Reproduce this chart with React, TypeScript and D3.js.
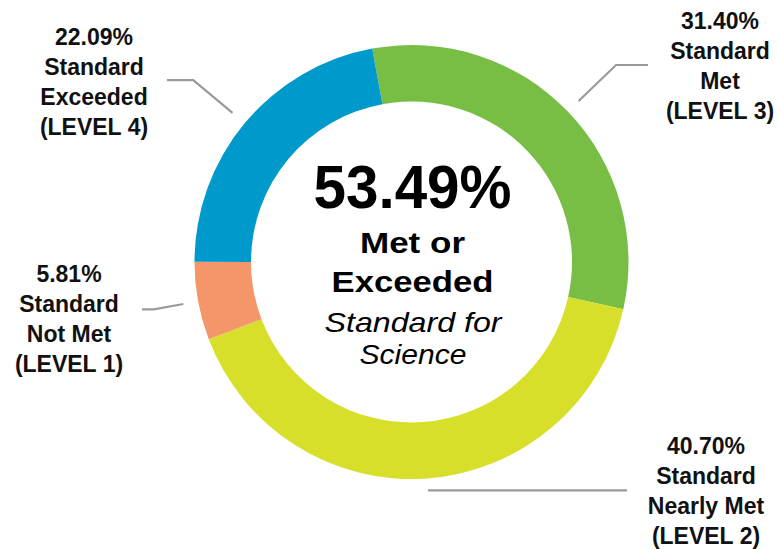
import React from "react";
import * as d3 from "d3";

const levels = ["LEVEL 3", "LEVEL 2", "LEVEL 1", "LEVEL 4"];
const descriptions = [["Standard", "Met"], ["Standard", "Nearly Met"], ["Standard", "Not Met"], ["Standard", "Exceeded"]];
const percents = [31.4, 40.7, 5.81, 22.09];
const colors = ["#78be45", "#d7df2b", "#f4966a", "#0099cc"];
const metOrExceeded = 53.49;
const centerLines = ["Met or", "Exceeded"];
const subtitleLines = ["Standard for", "Science"];

const W = 778;
const H = 549;
const cx = 411.5;
const cy = 262;
const R = 217;
const r = 160.5;
const startDeg = -10.44;

// layout of the outside labels (per slice, same order as data)
const labelLayout = [
  { x: 720, y: 28.5, r1: 232, r2: 284, endX: 648 },
  { x: 706, y: 454, r1: 229, r2: 229, endX: 627 },
  { x: 69, y: 282, r1: 232, r2: 262, endX: 142 },
  { x: 94, y: 44.5, r1: 233, r2: 284, endX: 167 },
];

const FONT = "'Liberation Sans', Arial, Helvetica, sans-serif";

export default function App() {
  const pie = d3
    .pie<number>()
    .sort(null)
    .value((d) => d)
    .startAngle((startDeg * Math.PI) / 180)
    .endAngle((startDeg * Math.PI) / 180 + 2 * Math.PI);
  const arcs = pie(percents);
  const arcGen = d3.arc<d3.PieArcDatum<number>>().innerRadius(r).outerRadius(R);

  const polar = (a: number, rad: number): [number, number] => [cx + rad * Math.sin(a), cy - rad * Math.cos(a)];
  const line = d3.line();

  return (
    <svg
      width={W}
      height={H}
      style={{ position: "fixed", left: 0, top: 0, background: "#fff" }}
      fontFamily={FONT}
    >
      <rect width={W} height={H} fill="#fff" />
      <g transform={`translate(${cx},${cy})`}>
        {arcs.map((a, i) => (
          <path key={i} d={arcGen(a) || ""} fill={colors[i]} />
        ))}
      </g>
      {arcs.map((a, i) => {
        const L = labelLayout[i];
        const mid = (a.startAngle + a.endAngle) / 2;
        const p1 = polar(mid, L.r1);
        const p2 = polar(mid, L.r2);
        const p3: [number, number] = [L.endX, p2[1]];
        return (
          <path
            key={"l" + i}
            d={line([p1, p2, p3]) || ""}
            fill="none"
            stroke="#9a9a9a"
            strokeWidth={2.2}
          />
        );
      })}
      {arcs.map((a, i) => {
        const L = labelLayout[i];
        const lines = [`${percents[i].toFixed(2)}%`, ...descriptions[i], `(${levels[i]})`];
        return (
          <text key={"t" + i} x={L.x} y={L.y} textAnchor="middle" fontWeight="bold" fontSize={23} fill="#111">
            {lines.map((s, j) => (
              <tspan key={j} x={L.x} dy={j === 0 ? 0 : 30}>
                {s}
              </tspan>
            ))}
          </text>
        );
      })}
      <text x={412.5} y={208} textAnchor="middle" fontWeight="bold" fontSize={61} textLength={198} lengthAdjust="spacingAndGlyphs" fill="#000">
        {`${metOrExceeded.toFixed(2)}%`}
      </text>
      <text x={412.5} y={253} textAnchor="middle" fontWeight="bold" fontSize={30} textLength={105} lengthAdjust="spacingAndGlyphs" fill="#000">
        {centerLines[0]}
      </text>
      <text x={412.5} y={292} textAnchor="middle" fontWeight="bold" fontSize={29} textLength={162} lengthAdjust="spacingAndGlyphs" fill="#000">
        {centerLines[1]}
      </text>
      <text x={413} y={332} textAnchor="middle" fontStyle="italic" fontSize={28} textLength={177} lengthAdjust="spacingAndGlyphs" fill="#000">
        {subtitleLines[0]}
      </text>
      <text x={413} y={363.5} textAnchor="middle" fontStyle="italic" fontSize={28} textLength={107} lengthAdjust="spacingAndGlyphs" fill="#000">
        {subtitleLines[1]}
      </text>
    </svg>
  );
}
